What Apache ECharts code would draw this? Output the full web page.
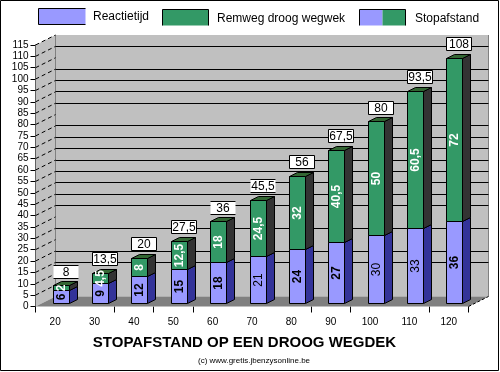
<!DOCTYPE html>
<html>
<head>
<meta charset="utf-8">
<title>Stopafstand</title>
<style>
    html, body { margin: 0; padding: 0; background: #fff; }
    #chart_stop { width: 500px; height: 372px; }
</style>
<script src="https://cdn.jsdelivr.net/npm/echarts@6/dist/echarts.min.js"></script>
</head>
<body>
<div id="chart_stop"></div>
<script>
// data
var categories = ['20', '30', '40', '50', '60', '70', '80', '90', '100', '110', '120'];
var reactie = [6, 9, 12, 15, 18, 21, 24, 27, 30, 33, 36];
var remweg = [2, 4.5, 8, 12.5, 18, 24.5, 32, 40.5, 50, 60.5, 72];
var totaal = [8, 13.5, 20, 27.5, 36, 45.5, 56, 67.5, 80, 93.5, 108];
var yTicks = [5, 10, 15, 20, 25, 30, 35, 40, 45, 50, 55, 60, 65, 70, 75, 80, 85, 90, 95, 100, 105, 110, 115];
// some lines and ticks are gone in the picture
var gridValues = [15, 20, 30, 40, 45, 50, 55, 60, 65, 70, 75, 85, 90, 95, 100, 110];
var xTickShown = [0, 2, 3, 4, 7, 8, 10];
var openBoxes = [0, 4, 5]; // these total boxes have no sides
var thinLabels = [5, 8, 9]; // blue labels that are not heavy in the picture

var FONT = '"Liberation Sans", Arial, sans-serif';
var BLUE = '#9999FF', BLUE_SIDE = '#333399', GREEN = '#339966', GREEN_SIDE = '#333333', GREEN_TOP = '#336633';
var WALL_DX = 20, WALL_DY = -10;
var BAR_W = 16, BAR_OFF_X = 6, BAR_OFF_Y = -2.7, BAR_DX = 8, BAR_DY = -4;

function fmt(v) {
    return String(v).replace('.', ',');
}

function crisp(v) {
    return Math.round(v - 0.5) + 0.5;
}

function poly(points, fill, stroke) {
    return {
        type: 'polygon',
        shape: { points: points },
        style: { fill: fill, stroke: stroke || null, lineWidth: 1 }
    };
}

function line(x1, y1, x2, y2, color, dash) {
    return {
        type: 'line',
        shape: { x1: x1, y1: y1, x2: x2, y2: y2 },
        style: { stroke: color, lineWidth: 1, lineDash: dash || null }
    };
}

function renderWall(params, api) {
    var c = params.coordSys;
    var l = c.x, r = c.x + c.width, t = c.y, b = c.y + c.height;
    return {
        type: 'group',
        children: [
            poly([[l + WALL_DX, t + WALL_DY], [r + WALL_DX, t + WALL_DY], [r + WALL_DX, b + WALL_DY], [l + WALL_DX, b + WALL_DY]], '#C0C0C0'),
            poly([[l, t], [l + WALL_DX, t + WALL_DY], [l + WALL_DX, b + WALL_DY], [l, b]], '#C0C0C0'),
            poly([[l, b], [l + WALL_DX, b + WALL_DY], [r + WALL_DX, b + WALL_DY], [r, b]], '#808080'),
            line(l + WALL_DX, t + WALL_DY, l + WALL_DX, b + WALL_DY, '#808080'),
            line(r + WALL_DX, t + WALL_DY, r + WALL_DX, b + WALL_DY, '#808080'),
            line(r, b, r + WALL_DX, b + WALL_DY, '#000', [3, 2])
        ]
    };
}

function renderLines(params, api) {
    var c = params.coordSys;
    var v = api.value(0);
    var y = api.coord([0, v])[1];
    var children = [line(c.x, y, c.x + WALL_DX, y + WALL_DY, '#000', [4, 3])];
    if (gridValues.indexOf(v) >= 0) {
        var by = crisp(y + WALL_DY);
        children.push(line(c.x + WALL_DX, by, c.x + c.width + WALL_DX, by, '#000'));
    }
    return { type: 'group', children: children };
}

function renderSegment(params, api, front, side, showTop, textColor) {
    var i = api.value(0);
    var from = api.value(1);
    var to = api.value(2);
    var center = api.coord([i, 0])[0];
    var x1 = crisp(center + BAR_OFF_X - BAR_W / 2);
    var x2 = x1 + BAR_W;
    var y1 = crisp(api.coord([i, from])[1] + BAR_OFF_Y);
    var y2 = crisp(api.coord([i, to])[1] + BAR_OFF_Y);
    var weight = (!showTop && thinLabels.indexOf(i) >= 0) ? 'normal' : 'bold';
    var children = [
        poly([[x2, y1], [x2 + BAR_DX, y1 + BAR_DY], [x2 + BAR_DX, y2 + BAR_DY], [x2, y2]], side, '#000'),
        poly([[x1, y1], [x2, y1], [x2, y2], [x1, y2]], front, '#000')
    ];
    if (showTop) {
        children.push(poly([[x1, y2], [x1 + BAR_DX, y2 + BAR_DY], [x2 + BAR_DX, y2 + BAR_DY], [x2, y2]], GREEN_TOP, '#000'));
    }
    children.push({
        type: 'text',
        x: (x1 + x2) / 2,
        y: (y1 + y2) / 2,
        rotation: Math.PI / 2,
        style: {
            text: fmt(to - from),
            fill: textColor,
            font: weight + ' 12px ' + FONT,
            align: 'center',
            verticalAlign: 'middle'
        }
    });
    return { type: 'group', children: children };
}

function renderTotal(params, api) {
    var i = api.value(0);
    var v = api.value(1);
    var center = api.coord([i, 0])[0];
    var cx = center + BAR_OFF_X + BAR_DX / 2 + 0.5;
    var bottom = api.coord([i, v])[1] + BAR_OFF_Y + BAR_DY - 3.5;
    var x1 = crisp(cx - 12.5), x2 = x1 + 25;
    var y2 = crisp(bottom), y1 = y2 - 13;
    var open = openBoxes.indexOf(i) >= 0;
    var children = [poly([[x1, y1], [x2, y1], [x2, y2], [x1, y2]], '#fff', open ? null : '#000')];
    if (open) {
        children.push(line(x1, y1, x2, y1, '#000'));
        children.push(line(x1, y2, x2, y2, '#000'));
    }
    children.push({
        type: 'text',
        x: (x1 + x2) / 2,
        y: (y1 + y2) / 2 + 0.5,
        style: {
            text: fmt(v),
            fill: '#000',
            font: '12px ' + FONT,
            align: 'center',
            verticalAlign: 'middle'
        }
    });
    return { type: 'group', children: children };
}

function legendBox(x, w, y, colors, sides) {
    var h = 16;
    var out = [];
    var part = w / colors.length;
    colors.forEach(function (c, k) {
        out.push({ type: 'rect', shape: { x: x + k * part, y: y, width: part, height: h }, style: { fill: c } });
    });
    if (sides.indexOf('l') >= 0) out.push(line(x, y, x, y + h, '#000'));
    if (sides.indexOf('t') >= 0) out.push(line(x, y, x + w, y, '#000'));
    if (sides.indexOf('r') >= 0) out.push(line(x + w, y, x + w, y + h, '#000'));
    if (sides.indexOf('b') >= 0) out.push(line(x, y + h, x + w, y + h, '#000'));
    return out;
}

function legendText(x, y, text) {
    return {
        type: 'text',
        x: x,
        y: y,
        style: { text: text, fill: '#000', font: '12px ' + FONT, verticalAlign: 'middle' }
    };
}

var chart_stop = echarts.init(document.getElementById('chart_stop'));

var option = {
    animation: false,
    backgroundColor: '#fff',
    title: [
        {
            text: 'STOPAFSTAND OP EEN DROOG WEGDEK',
            left: 244.5,
            top: 335,
            textAlign: 'center',
            padding: 0,
            textStyle: { fontFamily: FONT, fontSize: 15, fontWeight: 'bold', color: '#000' }
        },
        {
            text: '(c) www.gretis.jbenzysonline.be',
            left: 254,
            top: 357,
            textAlign: 'center',
            padding: 0,
            textStyle: { fontFamily: FONT, fontSize: 8, fontWeight: 'normal', color: '#000' }
        }
    ],
    grid: { left: 35.5, top: 45, width: 433, height: 261.5 },
    xAxis: {
        type: 'category',
        data: categories,
        axisLine: { show: false },
        axisTick: {
            show: true,
            length: 6,
            lineStyle: { color: '#000' },
            interval: function (index) {
                return xTickShown.indexOf(index) >= 0;
            }
        },
        axisLabel: { interval: 0, margin: 11, fontFamily: FONT, fontSize: 10, color: '#000' },
        splitLine: { show: false }
    },
    yAxis: {
        type: 'value',
        min: 0,
        max: 115,
        interval: 5,
        axisLine: { show: true, lineStyle: { color: '#000' } },
        axisTick: { show: true, length: 5, lineStyle: { color: '#000' } },
        axisLabel: { margin: 7, fontFamily: FONT, fontSize: 10, color: '#000' },
        splitLine: { show: false }
    },
    series: [
        {
            name: 'wand',
            type: 'custom',
            silent: true,
            clip: false,
            z: 1,
            data: [[0]],
            renderItem: renderWall
        },
        {
            name: 'lijnen',
            type: 'custom',
            silent: true,
            clip: false,
            z: 2,
            data: yTicks.map(function (v) { return [v]; }),
            encode: { y: 0 },
            renderItem: renderLines
        },
        {
            name: 'Reactietijd',
            type: 'custom',
            clip: false,
            z: 3,
            data: reactie.map(function (v, i) { return [i, 0, v]; }),
            encode: { x: 0, y: 2 },
            renderItem: function (params, api) {
                return renderSegment(params, api, BLUE, BLUE_SIDE, false, '#000');
            }
        },
        {
            name: 'Remweg droog wegwek',
            type: 'custom',
            clip: false,
            z: 4,
            data: remweg.map(function (v, i) { return [i, reactie[i], reactie[i] + v]; }),
            encode: { x: 0, y: 2 },
            renderItem: function (params, api) {
                return renderSegment(params, api, GREEN, GREEN_SIDE, true, '#fff');
            }
        },
        {
            name: 'Stopafstand',
            type: 'custom',
            clip: false,
            z: 5,
            data: totaal.map(function (v, i) { return [i, v]; }),
            encode: { x: 0, y: 1 },
            renderItem: renderTotal
        }
    ],
    graphic: {
        elements: [].concat(
            [{ type: 'rect', shape: { x: 0.5, y: 0.5, width: 498, height: 370 }, style: { fill: null, stroke: '#000', lineWidth: 1 } }],
            legendBox(38.5, 47, 8.5, [BLUE], 'ltb'),
            [legendText(93, 17, 'Reactietijd')],
            legendBox(162.5, 46, 9.5, [GREEN], 'ltr'),
            [legendText(217, 19, 'Remweg droog wegwek')],
            legendBox(359.5, 46, 9.5, [BLUE, GREEN], 'ltr'),
            [legendText(415, 19, 'Stopafstand')]
        )
    }
};

option && chart_stop.setOption(option);
</script>
</body>
</html>
